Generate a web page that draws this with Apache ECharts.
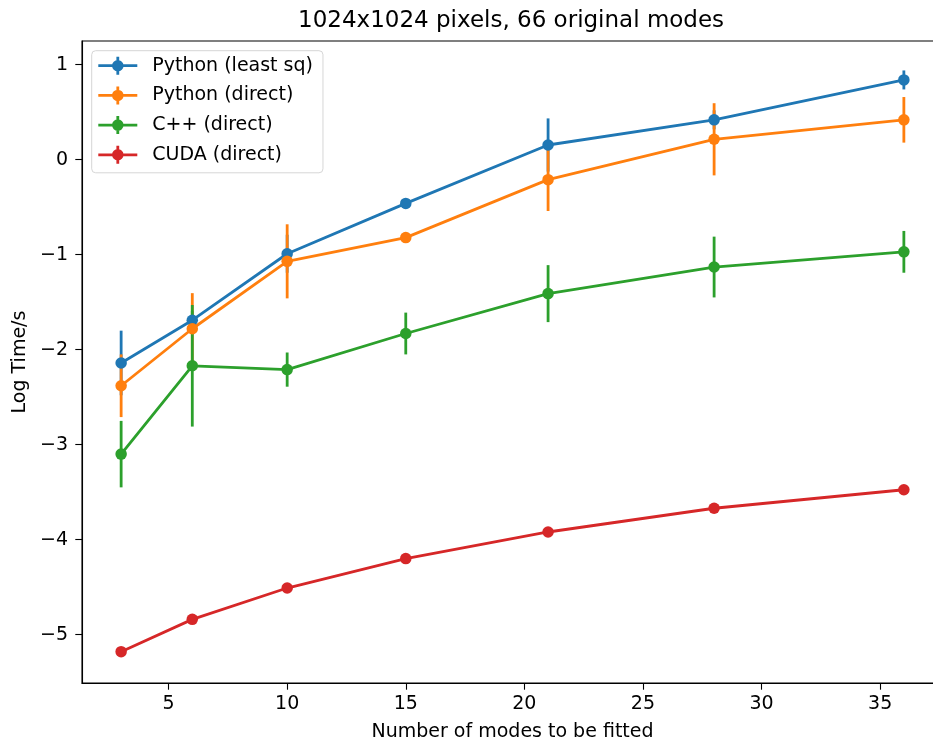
<!DOCTYPE html>
<html>
<head>
<meta charset="utf-8">
<script src="https://cdn.jsdelivr.net/npm/echarts@6/dist/echarts.min.js"></script>
<style>
  html, body { margin: 0; padding: 0; background: #fff; }
  #chart { width: 933px; height: 740px; }
</style>
</head>
<body>
<div id="chart"></div>
<script>
// Number of modes fitted (x values)
const modes = [3, 6, 10, 15, 21, 28, 36];

// Log10 run time in seconds, with symmetric error bars
const pyLeastSq     = [-2.14, -1.69, -0.99, -0.46, 0.155, 0.42, 0.84];
const pyLeastSqErr  = [0.34, 0.10, 0.20, 0.03, 0.28, 0.10, 0.10];
const pyDirect      = [-2.38, -1.78, -1.07, -0.82, -0.21, 0.215, 0.42];
const pyDirectErr   = [0.33, 0.375, 0.39, 0.05, 0.33, 0.38, 0.24];
const cppDirect     = [-3.10, -2.17, -2.21, -1.83, -1.41, -1.13, -0.97];
const cppDirectErr  = [0.35, 0.64, 0.18, 0.22, 0.30, 0.32, 0.22];
const cudaDirect    = [-5.18, -4.84, -4.51, -4.20, -3.92, -3.67, -3.475];
const cudaDirectErr = [0.02, 0.02, 0.02, 0.02, 0.02, 0.02, 0.02];

const seriesNames = ['Python (least sq)', 'Python (direct)', 'C++ (direct)', 'CUDA (direct)'];
const seriesColors = ['#1f77b4', '#ff7f0e', '#2ca02c', '#d62728'];
const seriesValues = [pyLeastSq, pyDirect, cppDirect, cudaDirect];
const seriesErrors = [pyLeastSqErr, pyDirectErr, cppDirectErr, cudaDirectErr];

// Tick positions
const xTicks = [5, 10, 15, 20, 25, 30, 35];
const yTicks = [-5, -4, -3, -2, -1, 0, 1];

const FONT = 'DejaVu Sans';
const LW = 2.8;

// Legend handle: horizontal line, vertical error bar and a round marker
const handleIcon = 'path://M0 7.6 L39 7.6 L39 10.4 L0 10.4 Z ' +
  'M18.1 0 L20.9 0 L20.9 18 L18.1 18 Z ' +
  'M13.75 9 A5.75 5.75 0 1 1 25.25 9 A5.75 5.75 0 1 1 13.75 9 Z';

function errorBars(name, color, vals, errs) {
  return {
    type: 'custom',
    name: name,
    itemStyle: { color: color },
    silent: true,
    data: modes.map((m, i) => [m, vals[i] - errs[i], vals[i] + errs[i]]),
    encode: { x: 0, y: [1, 2] },
    renderItem: function (params, api) {
      const lo = api.coord([api.value(0), api.value(1)]);
      const hi = api.coord([api.value(0), api.value(2)]);
      return {
        type: 'line',
        shape: { x1: lo[0], y1: lo[1], x2: hi[0], y2: hi[1] },
        style: { stroke: color, lineWidth: LW }
      };
    }
  };
}

function dataLine(name, color, vals) {
  return {
    type: 'line',
    name: name,
    data: modes.map((m, i) => [m, vals[i]]),
    symbol: 'circle',
    symbolSize: 11.5,
    showSymbol: true,
    lineStyle: { color: color, width: LW },
    itemStyle: { color: color },
    emphasis: { disabled: true },
    animation: false
  };
}

const series = [];
seriesNames.forEach((n, i) => {
  series.push(errorBars(n, seriesColors[i], seriesValues[i], seriesErrors[i]));
  series.push(dataLine(n, seriesColors[i], seriesValues[i]));
});

const fmtNum = v => (v < 0 ? '\u2212' + Math.abs(v) : String(v));

const chart = echarts.init(document.getElementById('chart'), null, { renderer: 'canvas' });
chart.setOption({
  animation: false,
  backgroundColor: '#fff',
  title: {
    text: '1024x1024 pixels, 66 original modes',
    left: 298,
    top: 10,
    padding: 0,
    textStyle: { fontFamily: FONT, fontSize: 23, fontWeight: 'normal', color: '#000' }
  },
  legend: {
    data: seriesNames.map(n => ({ name: n, icon: handleIcon })),
    orient: 'vertical',
    left: 91.7,
    top: 50.7,
    itemWidth: 39,
    itemHeight: 18,
    itemGap: 7.7,
    padding: [4, 10, 7, 6.6],
    backgroundColor: 'rgba(255,255,255,0.8)',
    borderColor: '#d6d6d6',
    borderWidth: 1,
    borderRadius: 4,
    selectedMode: false,
    textStyle: { fontFamily: FONT, fontSize: 19, color: '#000', lineHeight: 22, padding: [0, 0, 0, 10] }
  },
  grid: {
    left: 82,
    top: 41,
    right: -10,
    bottom: 57,
    show: true,
    borderColor: '#000',
    borderWidth: 1.1,
    containLabel: false,
    outerBoundsMode: 'none'
  },
  xAxis: {
    type: 'value',
    min: 1.35,
    max: 37.65,
    name: 'Number of modes to be fitted',
    nameLocation: 'middle',
    nameGap: 40,
    nameTextStyle: { fontFamily: FONT, fontSize: 19, color: '#000' },
    axisLine: { show: true, onZero: false, lineStyle: { color: '#000', width: 1.1 } },
    axisTick: { show: true, length: 6.7, inside: false, lineStyle: { color: '#000', width: 1.1 }, customValues: xTicks },
    axisLabel: { fontFamily: FONT, fontSize: 19, color: '#000', margin: 12, customValues: xTicks, formatter: fmtNum },
    splitLine: { show: false }
  },
  yAxis: {
    type: 'value',
    min: -5.51,
    max: 1.25,
    name: 'Log Time/s',
    nameLocation: 'middle',
    nameGap: 52,
    nameTextStyle: { fontFamily: FONT, fontSize: 19, color: '#000' },
    axisLine: { show: true, onZero: false, lineStyle: { color: '#000', width: 1.1 } },
    axisTick: { show: true, length: 6.7, inside: false, lineStyle: { color: '#000', width: 1.1 }, customValues: yTicks },
    axisLabel: { fontFamily: FONT, fontSize: 19, color: '#000', margin: 14, customValues: yTicks, formatter: fmtNum },
    splitLine: { show: false }
  },
  series: series
});
</script>
</body>
</html>
